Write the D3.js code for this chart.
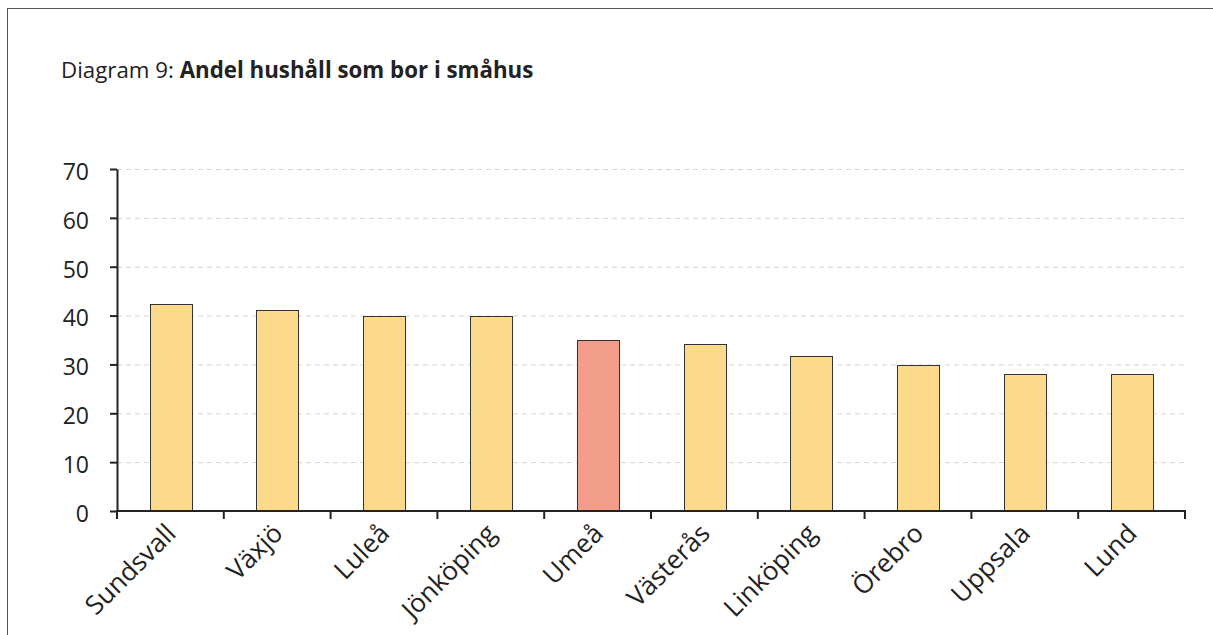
<!DOCTYPE html>
<html>
<head>
<meta charset="utf-8">
<script src="https://cdn.jsdelivr.net/npm/d3@7"></script>
<style>
  body { margin: 0; background: #fff; }
  svg { display: block; font-family: "Open Sans", sans-serif; }
</style>
</head>
<body>
<svg id="chart" width="1213" height="635"></svg>
<script>
const cities = ["Sundsvall", "Växjö", "Luleå", "Jönköping", "Umeå", "Västerås", "Linköping", "Örebro", "Uppsala", "Lund"];
const shares = [42.4, 41.2, 40.0, 40.0, 34.9, 34.2, 31.8, 29.9, 28.1, 28.1];
const highlight = "Umeå";
const yTicks = [0, 10, 20, 30, 40, 50, 60, 70];

const margin = { left: 117, right: 1185, top: 169, bottom: 511 };

const svg = d3.select("#chart");

// frame
svg.append("rect")
  .attr("x", 7.5).attr("y", 8.5)
  .attr("width", 1220).attr("height", 640)
  .attr("fill", "none").attr("stroke", "#555").attr("stroke-width", 1);

// title
const title = svg.append("text")
  .attr("x", 61).attr("y", 78)
  .attr("font-size", 22.3).attr("fill", "#222");
title.append("tspan").text("Diagram 9: ");
title.append("tspan").attr("font-weight", "bold").text("Andel hushåll som bor i småhus");

const x = d3.scaleBand().domain(cities).range([margin.left, margin.right]).padding(0);
const y = d3.scaleLinear().domain([0, 70]).range([margin.bottom, margin.top]);

// gridlines
svg.append("g")
  .selectAll("line")
  .data(yTicks.filter((d) => d > 0))
  .enter()
  .append("line")
  .attr("x1", margin.left).attr("x2", margin.right)
  .attr("y1", (d) => y(d) + 0.5).attr("y2", (d) => y(d) + 0.5)
  .attr("stroke", "#d4d4d4")
  .attr("stroke-dasharray", "5,4");

// bars
const bw = x.bandwidth() * 0.39;
svg.append("g")
  .selectAll("rect")
  .data(cities)
  .enter()
  .append("rect")
  .attr("x", (d) => Math.round(x(d) + (x.bandwidth() - bw) / 2) + 0.5)
  .attr("y", (d, i) => Math.round(y(shares[i])) + 0.5)
  .attr("width", Math.round(bw))
  .attr("height", (d, i) => Math.round(y(0)) - Math.round(y(shares[i])))
  .attr("fill", (d) => (d === highlight ? "#f29d8a" : "#fdda8b"))
  .attr("stroke", "#333")
  .attr("stroke-width", 1);

// y axis
const yAxis = svg.append("g")
  .attr("transform", `translate(${margin.left},0)`)
  .call(d3.axisLeft(y).tickValues(yTicks).tickSize(7).tickSizeOuter(0).tickPadding(21));
yAxis.select(".domain").attr("stroke", "#222").attr("stroke-width", 2);
yAxis.selectAll(".tick line").attr("stroke", "#222").attr("stroke-width", 2);
yAxis.selectAll(".tick text")
  .attr("font-size", 23).attr("fill", "#222").attr("dy", "0.45em")
  .attr("font-family", "Open Sans, sans-serif");

// x axis line and ticks at category boundaries
const xa = svg.append("g");
xa.append("line")
  .attr("x1", margin.left - 1).attr("x2", margin.right + 1)
  .attr("y1", y(0)).attr("y2", y(0))
  .attr("stroke", "#222").attr("stroke-width", 2);
const bounds = cities.map((d) => x(d)).concat([x(cities[cities.length - 1]) + x.bandwidth()]);
xa.selectAll("line.t")
  .data(bounds)
  .enter()
  .append("line")
  .attr("class", "t")
  .attr("x1", (d) => d).attr("x2", (d) => d)
  .attr("y1", y(0)).attr("y2", y(0) + 8)
  .attr("stroke", "#222").attr("stroke-width", 2);

xa.selectAll("text")
  .data(cities)
  .enter()
  .append("text")
  .attr("transform", (d) => `translate(${x(d) + x.bandwidth() / 2 + 7},${y(0) + 24}) rotate(-45)`)
  .attr("text-anchor", "end")
  .attr("font-size", 26)
  .attr("fill", "#222")
  .text((d) => d);
</script>
</body>
</html>
